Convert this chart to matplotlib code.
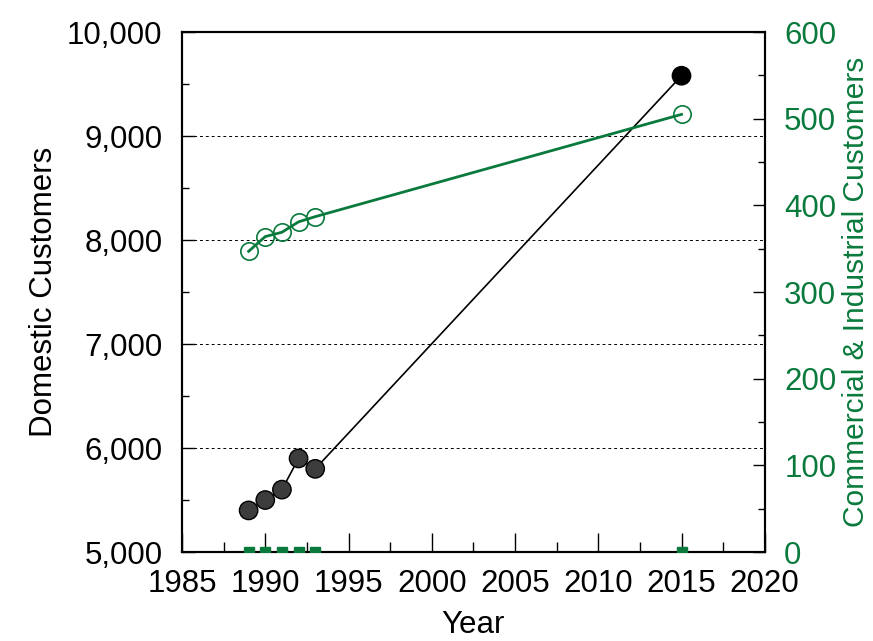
import matplotlib
matplotlib.use("Agg")
import matplotlib.pyplot as plt
from matplotlib.ticker import MultipleLocator, FuncFormatter

plt.rcParams['font.family'] = ['Liberation Sans', 'DejaVu Sans']

# Customer counts by year
years = [1989, 1990, 1991, 1992, 1993, 2015]
domestic = [5400, 5500, 5600, 5900, 5800, 9580]
commercial_industrial = [347, 364, 369, 381, 387, 505]
other = [0, 0, 0, 0, 0, 0]

GREEN = '#0a7a3c'
FS = 22.5

fig = plt.figure(figsize=(8.73, 6.41), dpi=100)
ax = fig.add_axes([0.2085, 0.1388, 0.6675, 0.8112])
ax2 = ax.twinx()

# Domestic customers (left axis)
ax.plot(years, domestic, color='black', lw=1.2, zorder=3)
fills = ['#3c3c3c'] * (len(years) - 1) + ['black']
ax.scatter(years, domestic, s=175, c=fills, edgecolors='black', linewidths=1.0, zorder=4)

# Commercial & industrial customers (right axis)
ax2.plot(years, commercial_industrial, color=GREEN, lw=2.0, zorder=3)
ax2.plot(years, commercial_industrial, 'o', ms=12.5, mfc='none', mec=GREEN, mew=1.2, zorder=4)
ax2.plot(years, other, 's', ms=7, color=GREEN, clip_on=True, zorder=4)

ax.set_xlim(1985, 2020)
ax.set_ylim(5000, 10000)
ax2.set_ylim(0, 600)

ax.xaxis.set_major_locator(MultipleLocator(5))
ax.xaxis.set_minor_locator(MultipleLocator(2.5))
ax.yaxis.set_major_locator(MultipleLocator(1000))
ax.yaxis.set_minor_locator(MultipleLocator(500))
ax2.yaxis.set_major_locator(MultipleLocator(100))
ax2.yaxis.set_minor_locator(MultipleLocator(50))
ax.yaxis.set_major_formatter(FuncFormatter(lambda v, p: f'{int(v):,}'))

ax.tick_params(axis='y', which='major', direction='in', length=9, width=1.0,
               labelsize=FS, pad=14)
ax.tick_params(axis='y', which='minor', direction='in', length=5, width=1.0)
ax.tick_params(axis='x', which='major', direction='in', length=14, width=1.0,
               labelsize=FS, pad=12)
ax.tick_params(axis='x', which='minor', direction='in', length=7, width=1.0)
ax2.tick_params(axis='y', which='major', direction='in', length=9, width=1.0,
                labelsize=FS, labelcolor=GREEN, pad=14)
ax2.tick_params(axis='y', which='minor', direction='in', length=5, width=1.0)

for a in (ax, ax2):
    for s in a.spines.values():
        s.set_linewidth(1.5)
        s.set_color('black')

ax.grid(axis='y', which='major', linestyle=(0, (3, 3)), color='black', lw=0.7)
ax.set_axisbelow(True)

ax.set_xlabel('Year', fontsize=FS, labelpad=8)
ax.set_ylabel('Domestic Customers', fontsize=FS, labelpad=6)
ax2.set_ylabel('Commercial & Industrial Customers', fontsize=21.5, color=GREEN,
               labelpad=4)

fig.savefig('out.png', dpi=100)
